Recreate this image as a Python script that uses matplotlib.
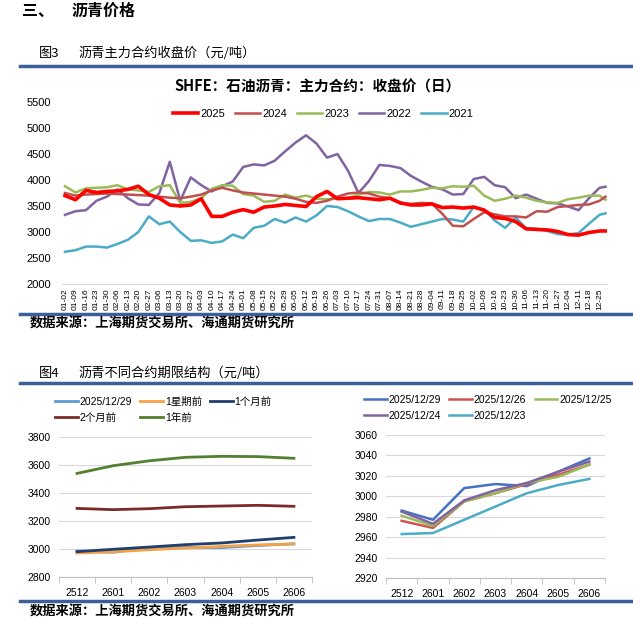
import numpy as np
import pandas as pd
import matplotlib
matplotlib.use("Agg")
import matplotlib.pyplot as plt
from matplotlib.lines import Line2D

plt.rcParams['font.family'] = ['Liberation Sans', 'Noto Sans CJK SC']
plt.rcParams['axes.unicode_minus'] = False

# ---- 图3 数据：每周读数（01-02 起，每 7 天一个点，最后一个点为 12-29）
tick_labels = pd.date_range('2025-01-02', periods=52, freq='7D').strftime('%m-%d').tolist()
x_days = list(range(0, 358, 7)) + [361]

y2025 = [3700, 3620, 3800, 3760, 3780, 3790, 3820, 3880, 3720, 3650,
         3520, 3500, 3520, 3640, 3300, 3300, 3380, 3430, 3380, 3480,
         3500, 3530, 3510, 3490, 3680, 3780, 3640, 3650, 3660, 3640,
         3620, 3650, 3560, 3520, 3520, 3540, 3470, 3480, 3460, 3480,
         3420, 3280, 3260, 3200, 3060, 3050, 3040, 3010, 2950, 2940,
         2990, 3020, 3020]
y2024 = [3750, 3700, 3720, 3730, 3740, 3730, 3720, 3710, 3700, 3680,
         3660, 3650, 3680, 3720, 3800, 3850, 3800, 3760, 3740, 3720,
         3700, 3680, 3640, 3580, 3560, 3600, 3680, 3740, 3760, 3740,
         3680, 3650, 3550, 3540, 3560, 3550, 3350, 3120, 3110, 3250,
         3380, 3340, 3300, 3300, 3280, 3400, 3390, 3480, 3500, 3520,
         3530, 3600, 3680]
y2023 = [3880, 3760, 3840, 3850, 3860, 3900, 3820, 3800, 3770, 3880,
         3900, 3560, 3580, 3650, 3830, 3900, 3890, 3730, 3700, 3580,
         3600, 3720, 3660, 3700, 3640, 3630, 3640, 3650, 3720, 3770,
         3760, 3720, 3780, 3780, 3810, 3850, 3840, 3880, 3870, 3890,
         3700, 3600, 3640, 3700, 3660, 3600, 3570, 3560, 3630, 3660,
         3700, 3700, 3620]
y2022 = [3330, 3400, 3420, 3600, 3680, 3820, 3650, 3530, 3520, 3750,
         4350, 3600, 4050, 3900, 3780, 3880, 3970, 4250, 4300, 4280,
         4370, 4550, 4720, 4860, 4700, 4430, 4500, 4180, 3750, 3980,
         4290, 4270, 4230, 4080, 3970, 3870, 3820, 3720, 3730, 4020,
         4060, 3900, 3860, 3650, 3720, 3640, 3560, 3550, 3490, 3420,
         3650, 3850, 3870]
y2021 = [2620, 2650, 2720, 2720, 2700, 2770, 2850, 3000, 3300, 3150,
         3200, 3000, 2830, 2840, 2790, 2820, 2950, 2880, 3080, 3120,
         3250, 3180, 3280, 3200, 3320, 3500, 3480, 3400, 3300, 3210,
         3250, 3250, 3180, 3100, 3150, 3200, 3250, 3240, 3200, 3480,
         3430, 3220, 3080, 3280, 3070, 3060, 3020, 2960, 2950, 2980,
         3160, 3330, 3360]

# ---- 图4 数据
contracts = ['2512', '2601', '2602', '2603', '2604', '2605', '2606']
cur = [2986, 2977, 3008, 3012, 3010, 3025, 3037]
wk1 = [2971, 2979, 2995, 3007, 3019, 3029, 3036]
m1 = [2981, 2998, 3014, 3031, 3043, 3064, 3083]
m2 = [3290, 3281, 3288, 3302, 3307, 3312, 3305]
yr1 = [3540, 3595, 3630, 3655, 3662, 3660, 3648]

d1229 = [2986, 2977, 3008, 3012, 3010, 3024, 3037]
d1226 = [2976, 2969, 2995, 3003, 3012, 3021, 3031]
d1225 = [2981, 2971, 2995, 3003, 3013, 3019, 3031]
d1224 = [2985, 2973, 2996, 3006, 3013, 3024, 3034]
d1223 = [2963, 2964, 2977, 2990, 3003, 3011, 3017]

W, H = 633, 628
fig = plt.figure(figsize=(W / 100, H / 100), dpi=100)


def box(x0, y0, x1, y1):
    return [x0 / W, 1 - y1 / H, (x1 - x0) / W, (y1 - y0) / H]


def fx(x):
    return x / W


def fy(y):
    return 1 - y / H


BLUE = '#3A6097'
cjk = ['Noto Sans CJK SC']

# 标题和分隔线
fig.text(fx(22), fy(11), '三、', fontsize=11.5, weight='bold', family=cjk, va='center')
fig.text(fx(72), fy(11), '沥青价格', fontsize=11.5, weight='bold', family=cjk, va='center')
fig.text(fx(39), fy(53), '图3', fontsize=9.5, weight='medium', family=cjk, va='center')
fig.text(fx(78), fy(53), '沥青主力合约收盘价（元/吨）', fontsize=9.5, weight='medium', family=cjk, va='center')
fig.text(fx(39), fy(373), '图4', fontsize=9.5, weight='medium', family=cjk, va='center')
fig.text(fx(78), fy(373), '沥青不同合约期限结构（元/吨）', fontsize=9.5, weight='medium', family=cjk, va='center')
src = '数据来源：上海期货交易所、海通期货研究所'
fig.text(fx(30), fy(323), src, fontsize=9.5, weight='bold', family=cjk, va='center')
fig.text(fx(30), fy(611), src, fontsize=9.5, weight='bold', family=cjk, va='center')
for yy in [66, 314, 383, 601]:
    fig.add_artist(Line2D([fx(20), 1], [fy(yy), fy(yy)], color=BLUE, lw=2.5))

# ---- 图3
ax = fig.add_axes(box(62, 102, 607, 284))
ax.plot(x_days, y2025, color='#FF0000', lw=2.6, label='2025', zorder=6)
ax.plot(x_days, y2024, color='#C0504D', lw=1.8, label='2024', zorder=5)
ax.plot(x_days, y2023, color='#9BBB59', lw=1.8, label='2023', zorder=4)
ax.plot(x_days, y2022, color='#8064A2', lw=1.8, label='2022', zorder=3)
ax.plot(x_days, y2021, color='#4BACC6', lw=1.8, label='2021', zorder=2)
ax.set_xlim(-2, 362)
ax.set_ylim(2000, 5500)
ax.set_yticks(range(2000, 5501, 500))
ax.set_xticks(x_days[:-1])
ax.set_xticklabels(tick_labels, rotation=90, fontsize=6)
ax.tick_params(axis='y', length=0, labelsize=8, pad=8)
ax.tick_params(axis='x', length=0, pad=3)
for s in ['left', 'right', 'top']:
    ax.spines[s].set_visible(False)
ax.spines['bottom'].set_color('#D9D9D9')
fig.text(fx(318), fy(87), 'SHFE：石油沥青：主力合约：收盘价（日）', fontsize=10.5,
         weight='bold', family=cjk, ha='center', va='center')
fig.legend(*ax.get_legend_handles_labels(), loc='center', bbox_to_anchor=(fx(323), fy(114)),
           ncol=5, frameon=False, fontsize=8, handlelength=2.3, handletextpad=0.15,
           columnspacing=0.9)


def style_cat(a, ymin, ymax, step):
    a.set_xlim(-0.5, 6.5)
    a.set_ylim(ymin, ymax)
    a.set_yticks(np.arange(ymin, ymax + 1, step))
    a.set_xticks(range(7))
    a.set_xticklabels(contracts)
    a.set_xticks(np.arange(-0.5, 7, 1), minor=True)
    a.tick_params(axis='x', which='major', length=0, labelsize=7.5, pad=8)
    a.tick_params(axis='x', which='minor', length=4, color='#BFBFBF')
    a.tick_params(axis='y', length=0, labelsize=7.5, pad=6)
    a.grid(axis='y', color='#D9D9D9', lw=0.8)
    a.set_axisbelow(True)
    for s in ['left', 'right', 'top']:
        a.spines[s].set_visible(False)
    a.spines['bottom'].set_color('#BFBFBF')


def row_legend(a, anchor):
    # legend fills by column; reorder so entries read across rows (3 per row)
    h, l = a.get_legend_handles_labels()
    order = [0, 3, 1, 4, 2]
    fig.legend([h[i] for i in order], [l[i] for i in order], loc='upper left',
               bbox_to_anchor=anchor, ncol=3, frameon=False, fontsize=7.5,
               handlelength=2.2, handletextpad=0.15, columnspacing=0.8,
               labelspacing=0.55, borderpad=0, borderaxespad=0)


# ---- 图4 左
xs = range(7)
axl = fig.add_axes(box(59, 437, 312, 577))
axl.plot(xs, cur, color='#5B9BD5', lw=2, label='2025/12/29')
axl.plot(xs, wk1, color='#F4A148', lw=2, label='1星期前')
axl.plot(xs, m1, color='#203F6E', lw=2, label='1个月前')
axl.plot(xs, m2, color='#7B2A2A', lw=2, label='2个月前')
axl.plot(xs, yr1, color='#52802E', lw=2, label='1年前')
style_cat(axl, 2800, 3800, 200)
row_legend(axl, (fx(55), fy(397)))

# ---- 图4 右
axr = fig.add_axes(box(386, 435, 605, 578))
axr.plot(xs, d1229, color='#4472C4', lw=1.8, label='2025/12/29')
axr.plot(xs, d1226, color='#D0534F', lw=1.8, label='2025/12/26')
axr.plot(xs, d1225, color='#9BBB59', lw=1.8, label='2025/12/25')
axr.plot(xs, d1224, color='#8064A2', lw=1.8, label='2025/12/24')
axr.plot(xs, d1223, color='#4BACC6', lw=1.8, label='2025/12/23')
style_cat(axr, 2920, 3060, 20)
row_legend(axr, (fx(364), fy(395)))

fig.savefig('out.png', dpi=100)
